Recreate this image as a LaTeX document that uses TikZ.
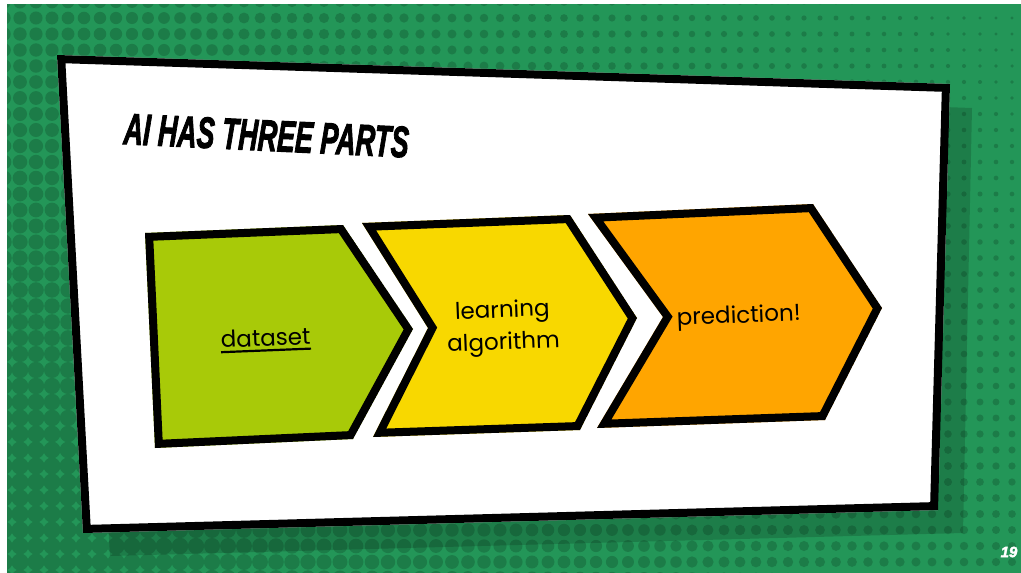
\documentclass[tikz,border=0pt]{standalone}
\usepackage{graphicx}
\usepackage{fontspec}
\setmainfont{Poppins}
\newfontfamily\titlefont{Liberation Sans}[FakeBold=2.5]
\definecolor{bggreen}{RGB}{35,150,88}
\definecolor{dotgreen}{RGB}{28,124,72}
\definecolor{chgreen}{RGB}{168,202,8}
\definecolor{chyellow}{RGB}{248,216,0}
\definecolor{chorange}{RGB}{255,165,0}
\tikzset{
  lbl/.style={inner sep=0pt, text=black, font=\fontsize{23}{32}\selectfont},
  border/.style={draw=black, line width=16pt, line join=miter},
  ttl/.style={inner sep=0pt, font=\titlefont\bfseries\itshape\fontsize{44}{44}\selectfont}
}
\begin{document}
\begin{tikzpicture}[x=1pt,y=-1pt]
\useasboundingbox (0,0) rectangle (1021,573);
\fill[white] (0,0) rectangle (1021,573);
\fill[bggreen] (7,4) rectangle (1021,573);
\begin{scope}
  \clip (7,4) rectangle (1021,573);
  \foreach \i in {0,...,64}{
    \foreach \j in {0,...,36}{
      \pgfmathsetmacro\rad{max(1.2,min(8.5,6.6-0.0051*\i*16+0.0046*\j*16))}
      \fill[dotgreen] (\i*16+4,\j*16+2) circle[radius=\rad*1pt];
    }
  }
\end{scope}
% shadow
\fill[black,opacity=0.16] (82,77) -- (972,108) -- (963,533) -- (110,556) -- cycle;
% card
\begin{scope}
  \clip (57,55) -- (950,84) -- (938,510) -- (83,533) -- cycle;
  \fill[white] (57,55) -- (950,84) -- (938,510) -- (83,533) -- cycle;
  \draw[border] (57,55) -- (950,84) -- (938,510) -- (83,533) -- cycle;
\end{scope}
% green chevron
\begin{scope}
  \clip (145,233) -- (343,225) -- (413,329) -- (353,439) -- (155,448) -- cycle;
  \fill[chgreen] (145,233) -- (343,225) -- (413,329) -- (353,439) -- (155,448) -- cycle;
  \draw[border] (145,233) -- (343,225) -- (413,329) -- (353,439) -- (155,448) -- cycle;
\end{scope}
% yellow chevron
\begin{scope}
  \clip (362,223) -- (570,215) -- (637,318) -- (580,430) -- (373,437) -- (428,328) -- cycle;
  \fill[chyellow] (362,223) -- (570,215) -- (637,318) -- (580,430) -- (373,437) -- (428,328) -- cycle;
  \draw[border] (362,223) -- (570,215) -- (637,318) -- (580,430) -- (373,437) -- (428,328) -- cycle;
\end{scope}
% orange chevron
\begin{scope}
  \clip (588,214) -- (813,204) -- (882,308) -- (825,420) -- (597,428) -- (663,317) -- cycle;
  \fill[chorange] (588,214) -- (813,204) -- (882,308) -- (825,420) -- (597,428) -- (663,317) -- cycle;
  \draw[border] (588,214) -- (813,204) -- (882,308) -- (825,420) -- (597,428) -- (663,317) -- cycle;
\end{scope}
% texts
\node[ttl, anchor=base west, rotate=-2.7] (title) at (123,144) {\scalebox{0.61}[1]{AI HAS THREE PARTS}};
\node[lbl, anchor=base, rotate=2.3] (ds) at (266,346) {dataset};
\draw[line width=2.2pt] ([shift={(0,4)}]ds.south west) -- ([shift={(0,4)}]ds.south east);
\node[lbl, align=center, rotate=2.3] (la) at (503,328) {learning\\algorithm};
\node[lbl, anchor=base, rotate=2.3] (pr) at (739,323) {prediction!};
\node[inner sep=0pt, text=white, font=\titlefont\bfseries\itshape\fontsize{15}{15}\selectfont] (pg) at (1009,552) {19};
\end{tikzpicture}
\end{document}
